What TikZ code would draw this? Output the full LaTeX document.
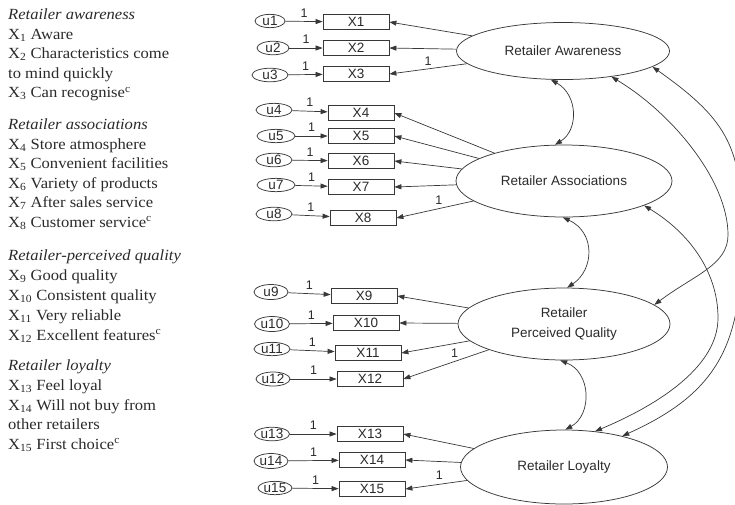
\documentclass[tikz,border=0pt]{standalone}
\usepackage{fontspec}
\setmainfont{Liberation Serif}
\setsansfont{Liberation Sans}
\newfontfamily\leftfont[FakeStretch=1.07]{Liberation Serif}
\usetikzlibrary{shapes.geometric,arrows.meta}
\definecolor{ln}{HTML}{383838}
\definecolor{tx}{HTML}{2A2A2A}
\begin{document}
\begin{tikzpicture}[x=1pt,y=-1pt,
  lat/.style={ellipse,draw=ln,line width=.75pt,inner sep=0pt,font=\sffamily\fontsize{13.5}{16}\selectfont,text=tx,align=center},
  err/.style={ellipse,draw=ln,line width=.75pt,inner sep=0pt,minimum width=34pt,minimum height=13pt,font=\sffamily\fontsize{13.5}{14}\selectfont,text=tx},
  obs/.style={rectangle,draw=ln,line width=.75pt,inner sep=0pt,minimum width=66pt,minimum height=15pt,font=\sffamily\fontsize{13.5}{14}\selectfont,text=tx},
  arr/.style={draw=ln,line width=.7pt,-{Triangle[length=7pt,width=5pt]}},
  cov/.style={draw=ln,line width=.7pt,{Triangle[length=7pt,width=5pt]}-{Triangle[length=7pt,width=5pt]}},
  one/.style={font=\sffamily\fontsize{12.5}{13}\selectfont,text=tx,inner sep=1.5pt,above,yshift=2.5pt},
  lt/.style={anchor=base west,inner sep=0pt,font=\leftfont\fontsize{15.5}{18}\selectfont,text=tx},
]
\useasboundingbox (0,0) rectangle (735,504);

% left legend
\node[lt] (t1) at (8,19) {\textit{Retailer awareness}};
\node[lt] (t2) at (8,39) {X\textsubscript{1} Aware};
\node[lt] (t3) at (8,58.5) {X\textsubscript{2} Characteristics come};
\node[lt] (t4) at (8,78) {to mind quickly};
\node[lt] (t5) at (8,97.5) {X\textsubscript{3} Can recognise\textsuperscript{c}};
\node[lt] (t6) at (8,129) {\textit{Retailer associations}};
\node[lt] (t7) at (8,149) {X\textsubscript{4} Store atmosphere};
\node[lt] (t8) at (8,168.5) {X\textsubscript{5} Convenient facilities};
\node[lt] (t9) at (8,188) {X\textsubscript{6} Variety of products};
\node[lt] (t10) at (8,207.5) {X\textsubscript{7} After sales service};
\node[lt] (t11) at (8,227) {X\textsubscript{8} Customer service\textsuperscript{c}};
\node[lt] (t12) at (8,260) {\textit{Retailer-perceived quality}};
\node[lt] (t13) at (8,280) {X\textsubscript{9} Good quality};
\node[lt] (t14) at (8,300) {X\textsubscript{10} Consistent quality};
\node[lt] (t15) at (8,320) {X\textsubscript{11} Very reliable};
\node[lt] (t16) at (8,340) {X\textsubscript{12} Excellent features\textsuperscript{c}};
\node[lt] (t17) at (8,370.5) {\textit{Retailer loyalty}};
\node[lt] (t18) at (8,390.5) {X\textsubscript{13} Feel loyal};
\node[lt] (t19) at (8,410) {X\textsubscript{14} Will not buy from};
\node[lt] (t20) at (8,429.5) {other retailers};
\node[lt] (t21) at (8,449) {X\textsubscript{15} First choice\textsuperscript{c}};

% latent variables
\node[lat,minimum width=213pt,minimum height=57pt] (A) at (563,51) {Retailer Awareness};
\node[lat,minimum width=216pt,minimum height=72pt] (As) at (564,181) {Retailer Associations};
\node[lat,minimum width=212pt,minimum height=72pt] (Q) at (564,324) {Retailer\\[4pt]Perceived Quality};
\node[lat,minimum width=207pt,minimum height=74pt] (L) at (564,467) {Retailer Loyalty};

% observed variables
\node[obs] (X1) at (356,22) {X1};
\node[obs] (X2) at (356,48) {X2};
\node[obs] (X3) at (356,74) {X3};
\node[obs] (X4) at (361,113) {X4};
\node[obs] (X5) at (361,136) {X5};
\node[obs] (X6) at (361,161) {X6};
\node[obs] (X7) at (361,187) {X7};
\node[obs] (X8) at (363,218) {X8};
\node[obs] (X9) at (364,296) {X9};
\node[obs] (X10) at (366,323) {X10};
\node[obs] (X11) at (368,353) {X11};
\node[obs] (X12) at (370,379) {X12};
\node[obs] (X13) at (370,434) {X13};
\node[obs] (X14) at (372,460) {X14};
\node[obs] (X15) at (372,489) {X15};

% error terms
\node[err,minimum width=30pt] (u1) at (270,21) {u1};
\node[err,minimum width=32pt] (u2) at (273,48) {u2};
\node[err,minimum width=36pt] (u3) at (270,75) {u3};
\node[err,minimum width=36pt,minimum height=12pt] (u4) at (274,110) {u4};
\node[err,minimum width=38pt] (u5) at (276,136) {u5};
\node[err,minimum width=36pt] (u6) at (274,160) {u6};
\node[err,minimum width=38pt] (u7) at (276,185) {u7};
\node[err,minimum width=36pt] (u8) at (274,214) {u8};
\node[err,minimum height=15pt] (u9) at (271,292) {u9};
\node[err,minimum width=35pt,minimum height=15pt] (u10) at (272,324) {u10};
\node[err,minimum width=36pt] (u11) at (272,349) {u11};
\node[err,minimum height=14pt] (u12) at (273,379) {u12};
\node[err,minimum width=35pt] (u13) at (272,434) {u13};
\node[err,minimum height=15pt] (u14) at (271,461) {u14};
\node[err] (u15) at (275,488) {u15};

% error -> indicator
\foreach \i in {1,...,15}{
  \draw[arr] (u\i) -- node[one]{1} (X\i);
}

% loadings
\draw[arr] (A) -- (X1.east);
\draw[arr] (A) -- (X2.east);
\draw[arr] (A) -- node[one,yshift=-1pt]{1} (X3.east);
\draw[arr] (As) -- (X4.east);
\draw[arr] (As) -- (X5.east);
\draw[arr] (As) -- (X6.east);
\draw[arr] (As) -- (X7.east);
\draw[arr] (As) -- node[one,pos=.45]{1} (X8.east);
\draw[arr] (Q) -- (X9.east);
\draw[arr] (Q) -- (X10.east);
\draw[arr] (Q) -- (X11.east);
\draw[arr] (Q) -- node[one,pos=.4]{1} (X12.east);
\draw[arr] (L) -- (X13.east);
\draw[arr] (L) -- (X14.east);
\draw[arr] (L) -- node[one,pos=.45]{1} (X15.east);

% covariances
\draw[cov] (A.-113) .. controls +(27,15) and +(24,-15) .. (As.104);
\draw[cov] (As.-92) .. controls +(33,15) and +(27,-18) .. (Q.85);
\draw[cov] (Q.-96) .. controls +(31,12) and +(27,-15) .. (L.88);
\coordinate (AQ) at (728,235);
\draw[cov] (A.-28) .. controls +(60,36) and +(0,-55) .. (AQ) .. controls +(0,30) and +(40,-30) .. (Q.12);
\coordinate (AsL) at (718,318);
\draw[cov] (As.-17) .. controls +(43,26) and +(0,-48) .. (AsL) .. controls +(0,52) and +(55,-23) .. (L.49);
\coordinate (AL) at (742,235);
\draw[cov] (A.-10) .. controls +(78,55) and +(0,-85) .. (AL) .. controls +(0,105) and +(100,-45) .. (L.28);
\end{tikzpicture}
\end{document}
